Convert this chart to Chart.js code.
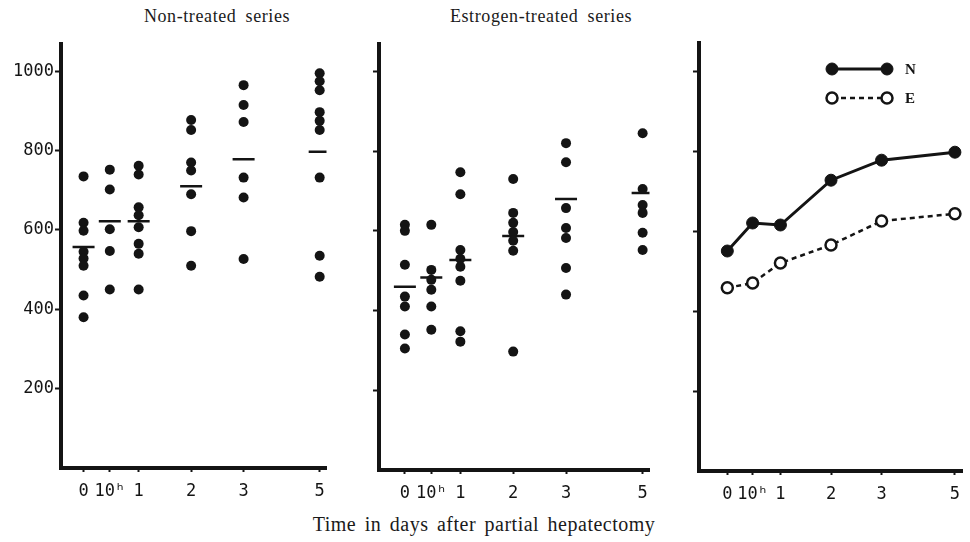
<!DOCTYPE html>
<html>
<head>
<meta charset="utf-8">
<script src="https://cdn.jsdelivr.net/npm/chart.js@4.4.1/dist/chart.umd.min.js"></script>
<style>
    body { margin: 0; background: #fff; width: 970px; height: 542px; position: relative; overflow: hidden; }
    .panel { position: absolute; }
    .caption { position: absolute; font-family: "Liberation Serif", serif; color: #1a1a1a; white-space: nowrap; transform: translateX(-50%); }
</style>
</head>
<body>
<div class="caption" style="left:217px; top:6px; font-size:18px; letter-spacing:0.6px; word-spacing:4px;">Non-treated series</div>
<div class="caption" style="left:541px; top:6px; font-size:18px; letter-spacing:0.6px; word-spacing:4px;">Estrogen-treated series</div>
<div class="caption" style="left:484px; top:513px; font-size:20px; letter-spacing:0.5px; word-spacing:3px;">Time in days after partial hepatectomy</div>

<div class="panel" style="left:0px; top:30px; width:340px; height:480px;"><canvas id="nonTreated"></canvas></div>
<div class="panel" style="left:318px; top:30px; width:345px; height:482px;"><canvas id="estrogen"></canvas></div>
<div class="panel" style="left:638px; top:30px; width:332px; height:483px;"><canvas id="summary"></canvas></div>

<script>
// time points after partial hepatectomy: 0, 10 hours, 1, 2, 3, 5 days
const dayLabels = ['0', '10ʰ', '1', '2', '3', '5'];
const dayPositions = [0, 0.5, 1.05, 2.05, 3.05, 4.5];
const valueTicks = [200, 400, 600, 800, 1000];

// individual values, one list per time point
const nonTreatedValues = [
    [735, 618, 598, 545, 528, 510, 435, 380],
    [752, 702, 602, 547, 450],
    [762, 740, 657, 637, 607, 565, 540, 450],
    [877, 852, 770, 750, 690, 597, 510],
    [965, 915, 872, 732, 682, 527],
    [995, 975, 952, 897, 875, 852, 732, 535, 482]
];
const nonTreatedMeans = [557, 622, 622, 710, 778, 797];

const estrogenValues = [
    [615, 600, 515, 435, 410, 340, 305],
    [615, 502, 477, 452, 410, 352],
    [747, 692, 552, 530, 510, 475, 348, 322],
    [730, 645, 620, 597, 575, 550, 297],
    [820, 772, 657, 607, 582, 507, 440],
    [845, 705, 665, 645, 595, 552]
];
const estrogenMeans = [460, 483, 527, 587, 680, 695];

// mean curves, right panel
const summaryN = [550, 620, 615, 727, 777, 797];
const summaryE = [458, 470, 520, 565, 625, 643];

const ink = '#141414';
const tickFont = { family: '"DejaVu Sans Mono", monospace', size: 17 };

function toPoints(values) {
    return values.flatMap((list, i) => list.map(v => ({ x: dayPositions[i], y: v })));
}

function toLine(values) {
    return values.map((v, i) => ({ x: dayPositions[i], y: v }));
}

function makeOptions(p) {
    return {
        responsive: true,
        maintainAspectRatio: false,
        animation: false,
        layout: { padding: { top: p.padTop, right: p.padRight, left: 0, bottom: 0 } },
        plugins: { legend: { display: false }, tooltip: { enabled: false } },
        scales: {
            x: {
                type: 'linear',
                min: p.xMin,
                max: p.xMax,
                afterBuildTicks: s => { s.ticks = dayPositions.map(v => ({ value: v })); },
                afterFit: s => { s.height = 42; },
                border: { color: ink, width: 4 },
                grid: { drawOnChartArea: false, tickLength: 4, tickWidth: 2, color: ink },
                ticks: {
                    color: ink, font: tickFont, padding: 9, autoSkip: false, maxRotation: 0,
                    callback: (v, i) => dayLabels[i]
                }
            },
            y: {
                min: 0,
                max: 1070,
                afterBuildTicks: s => { s.ticks = valueTicks.map(v => ({ value: v })); },
                afterFit: s => { s.width = 61; },
                border: { color: ink, width: 4 },
                grid: { drawOnChartArea: false, tickLength: 6, tickWidth: 2, color: ink },
                ticks: { display: p.yLabels, color: ink, font: tickFont, padding: 1, callback: v => String(v) }
            }
        }
    };
}

function scatterSets(values, means) {
    return [
        {
            data: toPoints(values),
            pointRadius: 5,
            backgroundColor: ink,
            borderWidth: 0
        },
        {
            data: toLine(means),
            pointStyle: 'line',
            pointRadius: 11,
            borderColor: ink,
            borderWidth: 2.5
        }
    ];
}

new Chart(document.getElementById('nonTreated'), {
    type: 'scatter',
    data: { datasets: scatterSets(nonTreatedValues, nonTreatedMeans) },
    options: makeOptions({ padTop: 10, padRight: 8, xMin: -0.43, xMax: 4.63, yLabels: true })
});

new Chart(document.getElementById('estrogen'), {
    type: 'scatter',
    data: { datasets: scatterSets(estrogenValues, estrogenMeans) },
    options: makeOptions({ padTop: 12, padRight: 11, xMin: -0.49, xMax: 4.63, yLabels: false })
});

// legend with a short line between two markers, like the original key
const keyPlugin = {
    id: 'key',
    afterDraw(chart) {
        const ctx = chart.ctx;
        const area = chart.chartArea;
        chart.data.datasets.forEach((ds, i) => {
            const y = area.top + 26 + i * 29;
            const x1 = area.left + 133, x2 = area.left + 188;
            ctx.save();
            ctx.strokeStyle = ink;
            ctx.lineWidth = ds.borderWidth;
            ctx.setLineDash(ds.borderDash || []);
            ctx.beginPath();
            ctx.moveTo(x1, y);
            ctx.lineTo(x2, y);
            ctx.stroke();
            ctx.setLineDash([]);
            [x1, x2].forEach(x => {
                ctx.beginPath();
                ctx.arc(x, y, ds.pointRadius, 0, Math.PI * 2);
                ctx.fillStyle = ds.pointBackgroundColor;
                ctx.fill();
                ctx.lineWidth = ds.pointBorderWidth;
                ctx.stroke();
            });
            ctx.fillStyle = ink;
            ctx.font = 'bold 15px "Liberation Serif", serif';
            ctx.textBaseline = 'middle';
            ctx.fillText(ds.label, x2 + 18, y + 1);
            ctx.restore();
        });
    }
};

new Chart(document.getElementById('summary'), {
    type: 'line',
    data: {
        datasets: [
            {
                label: 'N',
                data: toLine(summaryN),
                borderColor: ink,
                borderWidth: 3,
                pointRadius: 6,
                pointBackgroundColor: ink,
                pointBorderColor: ink,
                pointBorderWidth: 1,
                clip: false
            },
            {
                label: 'E',
                data: toLine(summaryE),
                borderColor: ink,
                borderWidth: 2.5,
                borderDash: [5, 4],
                pointRadius: 5.5,
                pointBackgroundColor: '#fff',
                pointBorderColor: ink,
                pointBorderWidth: 2.5,
                clip: false
            }
        ]
    },
    options: makeOptions({ padTop: 13, padRight: 0, xMin: -0.56, xMax: 4.64, yLabels: false }),
    plugins: [keyPlugin]
});
</script>
</body>
</html>
